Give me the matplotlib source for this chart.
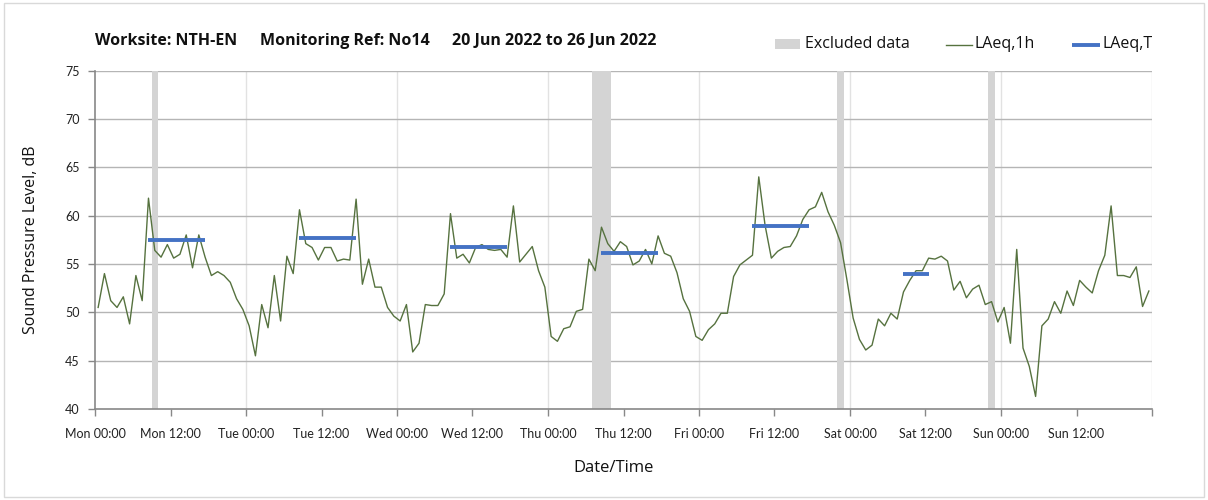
import matplotlib
matplotlib.use("Agg")
import matplotlib.pyplot as plt
import numpy as np
from matplotlib.patches import Rectangle
from matplotlib.lines import Line2D

plt.rcParams['font.family'] = ['Lato', 'DejaVu Sans']

# hourly LAeq,1h values (Mon 00:00 ... Sun 23:00)
laeq_1h = [
    50.5, 54.0, 51.2, 50.5, 51.6, 48.8, 53.8, 51.2, 61.8, 56.4, 55.7, 57.0,
    55.6, 56.0, 58.0, 54.6, 58.0, 55.7, 53.8, 54.2, 53.8, 53.1, 51.4, 50.3,
    48.6, 45.5, 50.8, 48.4, 53.8, 49.1, 55.8, 54.0, 60.6, 57.1, 56.7, 55.4,
    56.7, 56.7, 55.3, 55.5, 55.4, 61.7, 52.9, 55.5, 52.6, 52.6, 50.5, 49.6,
    49.1, 50.8, 45.9, 46.8, 50.8, 50.7, 50.7, 51.9, 60.2, 55.6, 56.0, 55.1,
    56.7, 57.0, 56.5, 56.4, 56.5, 55.7, 61.0, 55.2, 56.0, 56.8, 54.3, 52.6,
    47.5, 47.0, 48.3, 48.5, 50.1, 50.3, 55.5, 54.3, 58.8, 57.1, 56.3, 57.3,
    56.8, 54.9, 55.3, 56.5, 55.0, 57.9, 56.1, 55.8, 54.1, 51.4, 50.1, 47.5,
    47.1, 48.2, 48.8, 49.9, 49.9, 53.7, 54.9, 55.4, 55.9, 64.0, 59.0, 55.6,
    56.3, 56.7, 56.8, 57.9, 59.6, 60.6, 60.9, 62.4, 60.4, 59.0, 57.2, 53.4,
    49.4, 47.2, 46.1, 46.6, 49.3, 48.6, 49.9, 49.3, 52.1, 53.3, 54.3, 54.3,
    55.6, 55.5, 55.8, 55.3, 52.3, 53.2, 51.5, 52.4, 52.8, 50.8, 51.1, 49.0,
    50.5, 46.8, 56.5, 46.3, 44.4, 41.3, 48.6, 49.3, 51.1, 49.9, 52.2, 50.7,
    53.3, 52.6, 52.0, 54.3, 55.9, 61.0, 53.8, 53.8, 53.6, 54.7, 50.6, 52.2,
]

# LAeq,T period levels (start hour, end hour, level)
laeq_t_start = [8.5, 32.5, 56.5, 80.5, 104.5, 128.5]
laeq_t_end = [17.5, 41.5, 65.5, 89.5, 113.5, 132.5]
laeq_t_value = [57.5, 57.7, 56.8, 56.1, 58.9, 54.0]

# excluded data periods (hours from Mon 00:00)
excl_start = [9, 79, 118, 142]
excl_end = [10, 82, 119, 143]

tick_labels = ["Mon 00:00", "Mon 12:00", "Tue 00:00", "Tue 12:00", "Wed 00:00",
               "Wed 12:00", "Thu 00:00", "Thu 12:00", "Fri 00:00", "Fri 12:00",
               "Sat 00:00", "Sat 12:00", "Sun 00:00", "Sun 12:00"]

title_parts = ["Worksite: NTH-EN", "Monitoring Ref: No14", "20 Jun 2022 to 26 Jun 2022"]

LINE_COLOR = '#56723f'
T_COLOR = '#4472C4'
EXCL_COLOR = '#d4d4d4'

W, H = 1208, 500
fig = plt.figure(figsize=(12.08, 5.0), dpi=100)
ax = fig.add_axes([95/W, 91/H, (1152-95)/W, (409-70.5)/H])

hours = np.arange(len(laeq_1h)) + 0.5

for s, e in zip(excl_start, excl_end):
    ax.axvspan(s, e, color=EXCL_COLOR, lw=0, zorder=1)

for d in range(24, 169, 24):
    ax.axvline(d, color='#e2e2e2', lw=1.0, zorder=0.5)
for yv in range(45, 76, 5):
    ax.axhline(yv, color='#b5b5b5', lw=1.0, zorder=0.6)

ax.plot(hours, laeq_1h, color=LINE_COLOR, lw=1.0, zorder=3)
for s, e, v in zip(laeq_t_start, laeq_t_end, laeq_t_value):
    ax.plot([s, e], [v, v], color=T_COLOR, lw=2.8, zorder=4, solid_capstyle='butt')

ax.set_xlim(0, 168)
ax.set_ylim(40, 75)
ax.set_xticks(np.arange(0, 168, 12))
ax.set_xticks([168], minor=True)
ax.set_xticklabels(tick_labels, fontsize=9, color='#222222')
ax.set_yticks(range(40, 76, 5))
ax.set_yticklabels([str(v) for v in range(40, 76, 5)], fontsize=9, color='#222222')
ax.tick_params(axis='both', direction='out', length=5, color='#888888', width=1)
ax.tick_params(axis='x', which='minor', direction='out', length=5, color='#888888', width=1)
ax.tick_params(axis='x', pad=9)
ax.tick_params(axis='y', pad=6)

for sp in ['top', 'right']:
    ax.spines[sp].set_visible(False)
for sp in ['left', 'bottom']:
    ax.spines[sp].set_color('#888888')
    ax.spines[sp].set_linewidth(1.2)

ax.set_ylabel("Sound Pressure Level, dB", fontsize=11.5, color='#111111', labelpad=19,
              family=['Open Sans', 'DejaVu Sans'])
fig.text(614/W, 1 - 468/H, "Date/Time", fontsize=12, color='#111111',
         ha='center', va='center', family=['Open Sans', 'DejaVu Sans'])

for xp, txt in zip([95, 260, 452], title_parts):
    fig.text(xp/W, 1 - 41/H, txt, fontsize=11.5, fontweight='bold', color='#111111',
             ha='left', va='center', family=['Open Sans', 'DejaVu Sans'])

# legend (manually placed)
ly = 1 - 44.5/H
fig.patches.append(Rectangle((775/W, 1 - 49/H), 25/W, 10/H, transform=fig.transFigure,
                             facecolor=EXCL_COLOR, edgecolor='none'))
fig.text(805/W, ly, "Excluded data", fontsize=11.5, color='#111111', ha='left', va='center',
         family=['Open Sans', 'DejaVu Sans'])
fig.lines.append(Line2D([946/W, 972/W], [ly, ly], transform=fig.transFigure,
                        color=LINE_COLOR, lw=1.0))
fig.text(975/W, ly, "LAeq,1h", fontsize=11.5, color='#111111', ha='left', va='center',
         family=['Open Sans', 'DejaVu Sans'])
fig.lines.append(Line2D([1072/W, 1100/W], [ly, ly], transform=fig.transFigure,
                        color=T_COLOR, lw=2.8, solid_capstyle='butt'))
fig.text(1102/W, ly, "LAeq,T", fontsize=11.5, color='#111111', ha='left', va='center',
         family=['Open Sans', 'DejaVu Sans'])

# outer frame
fig.patches.append(Rectangle((4/W, 3/H), 1200/W, 494/H, transform=fig.transFigure,
                             fill=False, edgecolor='#d9d9d9', lw=1))

fig.savefig("out.png", dpi=100)
